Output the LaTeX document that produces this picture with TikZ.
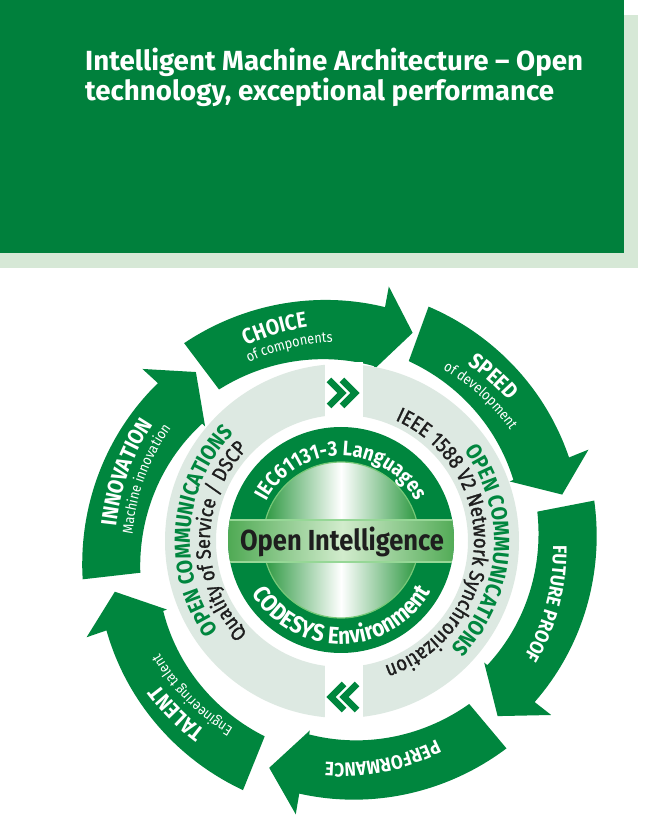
\documentclass[tikz,border=0pt]{standalone}
\usepackage{fontspec}
\setmainfont{Fira Sans}
\newfontfamily\fsn[FakeStretch=0.88]{Fira Sans}
\newfontfamily\fsm[FakeStretch=0.88,FakeBold=1.3]{Fira Sans}
\usetikzlibrary{decorations.text}
\definecolor{hgreen}{RGB}{0,128,60}
\definecolor{wgreen}{RGB}{0,134,62}
\definecolor{hshadow}{RGB}{214,232,214}
\definecolor{ringlight}{RGB}{221,233,226}
\definecolor{igreen}{RGB}{40,150,60}
\definecolor{igreenlight}{RGB}{120,200,120}
\definecolor{bandgreen}{RGB}{70,165,75}
\definecolor{bandlight}{RGB}{210,236,205}
\definecolor{bandedge}{RGB}{150,215,150}
\definecolor{darktext}{RGB}{30,30,30}

% #1 tail angle, #2 barb angle, #3 tip angle (around the arrow centre)
\newcommand\wheelarrow[3]{%
  \fill[wgreen] plot[domain=#1:#2, samples=40, variable=\t] (\t:{201-14*((#1)-(\t))/((#1)-(#2))})
    -- (#2:183) -- (#3:229) -- (#2:268)
    -- plot[domain=#2:#1, samples=40, variable=\t] (\t:{259-12*((#1)-(\t))/((#1)-(#2))}) -- cycle;
}
% #1 centre, #2 radius, #3 start angle, #4 end angle, #5 colour, #6 font, #7 text
\newcommand\arctext[7]{%
  \path[shift={(#1)}, decorate, decoration={text along path, text={|#6|#7}, text color=#5, text align=center}]
    (#3:#2) arc[start angle=#3, end angle=#4, radius=#2];
}

\begin{document}
\begin{tikzpicture}[x=1pt,y=1pt]
\useasboundingbox (0,0) rectangle (645,827);
\fill[white] (0,0) rectangle (645,827);
% header
\fill[hshadow] (0,559) rectangle (638,812);
\fill[hgreen] (0,574) rectangle (624,827);
\node[anchor=base west, inner sep=0, text=white, font=\bfseries\fontsize{27.7}{27.7}\selectfont] (title1) at (85,756) {Intelligent Machine Architecture – Open};
\node[anchor=base west, inner sep=0, text=white, font=\bfseries\fontsize{27.7}{27.7}\selectfont] (title2) at (85,726) {technology, exceptional performance};

% outer arrows
\coordinate (A) at (340,277);
\begin{scope}[shift={(A)}]
\wheelarrow{186.5}{137.5}{129}
\wheelarrow{127}{79.5}{71.5}
\wheelarrow{70}{22}{14}
\wheelarrow{11}{-38}{-46.5}
\wheelarrow{-50}{-99.5}{-108}
\wheelarrow{-112}{-161}{-169.5}
\end{scope}

% light ring
\coordinate (L) at (342,286);
\fill[ringlight, even odd rule] (L) circle[radius=177pt] (L) circle[radius=126pt];
\fill[white] (325,405) rectangle (363,465);
\fill[white] (325,105) rectangle (363,168);
\draw[wgreen, line width=6.5pt] (329,447) -- (342,434) -- (329,421) (342,447) -- (355,434) -- (342,421);
\draw[wgreen, line width=6.5pt] (357,143) -- (344,130) -- (357,117) (344,143) -- (331,130) -- (344,117);

% disc
\coordinate (D) at (341,287);
\fill[wgreen] (D) circle[radius=113pt];
\shade[left color=igreen, right color=igreen, middle color=white] (D) circle[radius=78pt];
\draw[igreenlight, line width=1.2pt] (D) circle[radius=78pt];
\begin{scope}
\clip (D) circle[radius=113pt];
\shade[left color=bandgreen, right color=bandgreen, middle color=bandlight] (220,265) rectangle (465,307);
\draw[bandedge, line width=1.2pt] (220,265) -- (465,265) (220,307) -- (465,307);
\end{scope}
\node[anchor=base, inner sep=0, text=darktext, font=\fsn\bfseries\fontsize{29}{29}\selectfont] (oi) at (342,276) {Open Intelligence};

% disc texts
\arctext{D}{84pt}{175}{5}{white}{\fsn\bfseries\fontsize{21}{21}\selectfont}{IEC61131-3 Languages}
\arctext{D}{104pt}{190.6}{350.6}{white}{\fsn\bfseries\fontsize{24}{24}\selectfont}{CODESYS Environment}

% ring texts
\arctext{L}{152pt}{235.4}{115.4}{wgreen}{\fsn\bfseries\fontsize{22}{22}\selectfont}{OPEN COMMUNICATIONS}
\arctext{L}{152pt}{56}{-64}{wgreen}{\fsn\bfseries\fontsize{22}{22}\selectfont}{OPEN COMMUNICATIONS}
\arctext{L}{132pt}{250}{110}{darktext}{\fsm\fontsize{20.5}{20.5}\selectfont}{Quality of Service / DSCP}
\arctext{L}{132pt}{82.5}{-87.5}{darktext}{\fsm\fontsize{21}{21}\selectfont}{IEEE 1588 V2 Network Synchronization}

% arrow texts
\arctext{A}{225pt}{146.5}{66.5}{white}{\fsn\bfseries\fontsize{22}{22}\selectfont}{CHOICE}
\arctext{A}{208pt}{144}{64}{white}{\fsn\fontsize{14.5}{14.5}\selectfont}{of components}
\arctext{A}{225pt}{88.5}{8.5}{white}{\fsn\bfseries\fontsize{22}{22}\selectfont}{SPEED}
\arctext{A}{208pt}{87.7}{7.7}{white}{\fsn\fontsize{14.5}{14.5}\selectfont}{of development}
\arctext{A}{213pt}{25.5}{-54.5}{white}{\fsn\bfseries\fontsize{19.5}{19.5}\selectfont}{FUTURE PROOF}
\arctext{A}{213pt}{-38.5}{-118.5}{white}{\fsn\bfseries\fontsize{19.5}{19.5}\selectfont}{PERFORMANCE}
\arctext{A}{225pt}{-95}{-175}{white}{\fsn\bfseries\fontsize{22}{22}\selectfont}{TALENT}
\arctext{A}{208pt}{-95.5}{-175.5}{white}{\fsn\fontsize{14.5}{14.5}\selectfont}{Engineering talent}
\arctext{A}{225pt}{200}{120}{white}{\fsn\bfseries\fontsize{22}{22}\selectfont}{INNOVATION}
\arctext{A}{208pt}{200}{120}{white}{\fsn\fontsize{14.5}{14.5}\selectfont}{Machine innovation}
\end{tikzpicture}
\end{document}
